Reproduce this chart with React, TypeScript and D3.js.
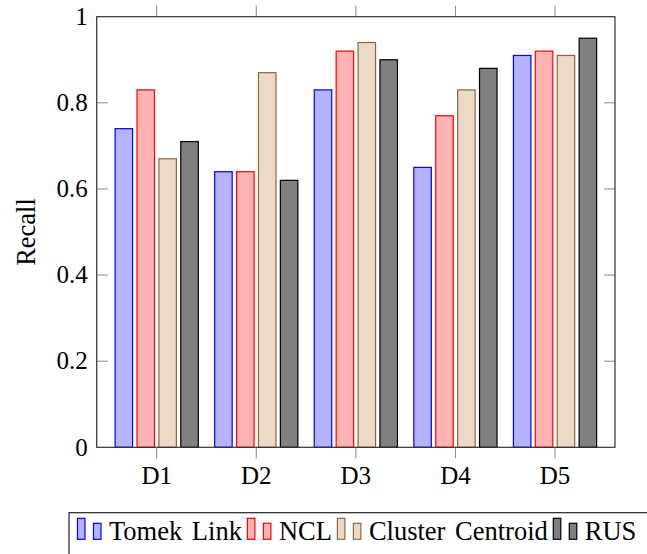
import React from 'react';
import * as d3 from 'd3';

const categories = ['D1', 'D2', 'D3', 'D4', 'D5'];
const seriesNames = ['Tomek Link', 'NCL', 'Cluster Centroid', 'RUS'];
const tomekLink = [0.74, 0.64, 0.83, 0.65, 0.91];
const ncl = [0.83, 0.64, 0.92, 0.77, 0.92];
const clusterCentroid = [0.67, 0.87, 0.94, 0.83, 0.91];
const rus = [0.71, 0.62, 0.9, 0.88, 0.95];
const yTicks = [0, 0.2, 0.4, 0.6, 0.8, 1];

const SERIES = [
  { name: seriesNames[0], values: tomekLink, fill: '#b3b3ff', stroke: '#0000ff' },
  { name: seriesNames[1], values: ncl, fill: '#ffb3b3', stroke: '#ff0000' },
  { name: seriesNames[2], values: clusterCentroid, fill: '#ecd9c6', stroke: '#8f6640' },
  { name: seriesNames[3], values: rus, fill: '#808080', stroke: '#000000' },
];

const FONT = "'Liberation Serif', Tinos, 'DejaVu Serif', serif";
const FS = 25;
const LABEL_FS = 26.5;
const WORD_SP = 3;

const measure = (text: string, size: number) => {
  const ctx = document.createElement('canvas').getContext('2d');
  const spaces = (text.match(/ /g) || []).length;
  if (!ctx) return text.length * size * 0.5 + spaces * WORD_SP;
  ctx.font = `${size}px ${FONT}`;
  return ctx.measureText(text).width + spaces * WORD_SP;
};

export default function App() {
  const width = 647;
  const height = 554;
  const left = 96.7;
  const right = 615;
  const top = 16.7;
  const bottom = 447.3;

  // pgfplots style: categories at 1..5 with enlarged limits
  const x = d3.scaleLinear().domain([1 - 0.6024, 5 + 0.6024]).range([left, right]);
  const y = d3.scaleLinear().domain([0, 1]).range([bottom, top]);
  const barW = 17.5;
  const step = 21.9;

  // legend layout
  const legendItems: { x: number; textX: number; name: string; s: typeof SERIES[0] }[] = [];
  let cx = 77.5;
  SERIES.forEach((s) => {
    const textX = cx + 31.5;
    legendItems.push({ x: cx, textX, name: s.name, s });
    cx = textX + measure(s.name, LABEL_FS) + 5.5;
  });
  const legendRight = cx + 8.5;

  const txt = { fontFamily: FONT, fontSize: FS };
  const lbl = { fontFamily: FONT, fontSize: LABEL_FS, wordSpacing: WORD_SP };

  return (
    <svg
      width={width}
      height={height}
      style={{ position: 'absolute', left: 0, top: 0, background: '#fff', fontFamily: FONT }}
    >
      {/* bars */}
      {SERIES.map((s, si) =>
        s.values.map((v, ci) => {
          const cxm = x(ci + 1) + (si - 1.5) * step;
          return (
            <rect
              key={`${si}-${ci}`}
              x={cxm - barW / 2}
              y={y(v)}
              width={barW}
              height={y(0) - y(v)}
              fill={s.fill}
              stroke={s.stroke}
              strokeWidth={1.2}
            />
          );
        })
      )}

      {/* y ticks inward on both sides */}
      {yTicks.map((t) => (
        <g key={t}>
          {t > 0 && t < 1 && (
            <>
              <line x1={left} x2={left + 11} y1={y(t)} y2={y(t)} stroke="#888" strokeWidth={1} />
              <line x1={right - 11} x2={right} y1={y(t)} y2={y(t)} stroke="#888" strokeWidth={1} />
            </>
          )}
          <text x={left - 9} y={y(t)} dy="0.33em" textAnchor="end" style={txt}>
            {t}
          </text>
        </g>
      ))}

      {/* x ticks outward, top and bottom */}
      {categories.map((c, i) => (
        <g key={c}>
          <line x1={x(i + 1)} x2={x(i + 1)} y1={bottom} y2={bottom + 11} stroke="#888" strokeWidth={1} />
          <line x1={x(i + 1)} x2={x(i + 1)} y1={top - 11} y2={top} stroke="#888" strokeWidth={1} />
          <text x={x(i + 1)} y={484} textAnchor="middle" style={txt}>
            {c}
          </text>
        </g>
      ))}

      {/* frame */}
      <rect x={left} y={top} width={right - left} height={bottom - top} fill="none" stroke="#333" strokeWidth={1.2} />

      {/* y label */}
      <text
        transform={`translate(${35},${(top + bottom) / 2}) rotate(-90)`}
        textAnchor="middle"
        style={lbl}
      >
        Recall
      </text>

      {/* legend */}
      <rect x={69} y={512.7} width={legendRight - 69} height={60} fill="#fff" stroke="#222" strokeWidth={1.2} />
      {legendItems.map((it) => (
        <g key={it.name}>
          <rect x={it.x} y={518.3} width={7.5} height={21} fill={it.s.fill} stroke={it.s.stroke} strokeWidth={1.2} />
          <rect x={it.x + 16} y={523.3} width={7.5} height={16} fill={it.s.fill} stroke={it.s.stroke} strokeWidth={1.2} />
          <text x={it.textX} y={539.5} style={lbl}>
            {it.name}
          </text>
        </g>
      ))}
    </svg>
  );
}
